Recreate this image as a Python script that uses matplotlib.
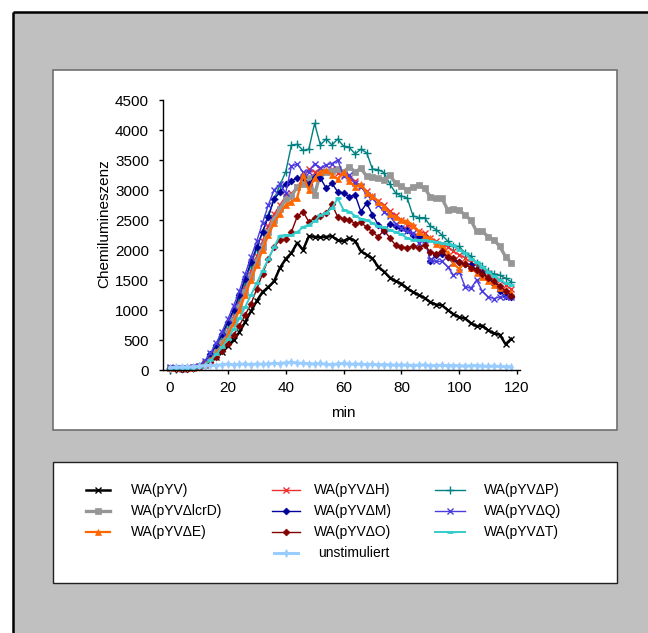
import numpy as np
import matplotlib
matplotlib.use("Agg")
import matplotlib.pyplot as plt
from matplotlib.patches import Rectangle
from matplotlib.lines import Line2D

plt.rcParams['font.family'] = ['Liberation Sans', 'DejaVu Sans']

# sampling every 2 minutes
minutes = np.arange(0, 120, 2)

pyv = [40, 30, 30, 35, 40, 50, 80, 140, 220, 300, 400, 500, 630, 800, 980, 1150,
       1300, 1380, 1480, 1700, 1850, 1950, 2120, 2000, 2230, 2220, 2210, 2220, 2230, 2160,
       2150, 2200, 2150, 1980, 1920, 1860, 1720, 1640, 1540, 1480, 1440, 1360, 1300, 1250,
       1200, 1130, 1090, 1080, 1000, 930, 880, 860, 780, 730, 740, 660, 610, 590, 430, 520]
lcrd = [30, 30, 25, 30, 35, 50, 90, 180, 300, 450, 620, 820, 1050, 1300, 1550, 1800,
        2050, 2300, 2500, 2680, 2850, 2900, 3050, 3100, 3200, 2920, 3280, 3300, 3320, 3350,
        3300, 3390, 3300, 3360, 3230, 3220, 3200, 3170, 3250, 3110, 3060, 3000, 3050, 3080,
        3030, 2890, 2860, 2860, 2670, 2690, 2670, 2580, 2500, 2310, 2310, 2220, 2170, 2060,
        1890, 1780]
d_e = [30, 35, 30, 35, 40, 55, 100, 170, 280, 420, 580, 780, 1000, 1250, 1500, 1750,
       2000, 2250, 2450, 2600, 2750, 2800, 2870, 3250, 3000, 3200, 3300, 3330, 3250, 3180,
       3300, 3150, 3050, 3100, 2950, 2900, 2800, 2720, 2600, 2550, 2500, 2480, 2420, 2300,
       2230, 2200, 2100, 2080, 1950, 1780, 1680, 1800, 1700, 1620, 1550, 1480, 1420, 1370,
       1330, 1280]
d_h = [40, 35, 30, 35, 45, 60, 110, 200, 330, 500, 680, 900, 1150, 1400, 1650, 1900,
       2150, 2400, 2600, 2750, 2900, 2950, 3050, 3200, 3350, 3300, 3350, 3300, 3350, 3280,
       3250, 3200, 3150, 3050, 2980, 2900, 2820, 2750, 2650, 2580, 2500, 2420, 2380, 2320,
       2280, 2200, 2150, 2100, 2050, 1980, 1920, 1870, 1800, 1740, 1680, 1620, 1560, 1500,
       1420, 1350]
d_m = [40, 30, 25, 30, 45, 70, 140, 260, 420, 600, 800, 1000, 1250, 1520, 1800, 2050,
       2300, 2550, 2850, 2960, 3100, 3150, 3200, 3210, 3100, 3210, 3200, 3030, 3110, 2970,
       2950, 2890, 2920, 2640, 2780, 2590, 2420, 2310, 2440, 2400, 2360, 2330, 2250, 2220,
       2220, 1810, 1920, 1940, 1890, 1840, 1800, 1770, 1750, 1670, 1610, 1530, 1440, 1310,
       1230, 1220]
d_o = [30, 25, 20, 25, 35, 50, 80, 140, 220, 320, 440, 580, 740, 920, 1100, 1350,
       1600, 1850, 2050, 2170, 2180, 2300, 2560, 2640, 2470, 2530, 2560, 2610, 2760, 2550,
       2520, 2500, 2440, 2460, 2380, 2300, 2220, 2330, 2200, 2080, 2050, 2040, 2060, 2030,
       2090, 1960, 1940, 1980, 1880, 1860, 1800, 1760, 1700, 1670, 1600, 1540, 1480, 1400,
       1320, 1240]
d_p = [20, 25, 30, 30, 40, 60, 120, 230, 380, 560, 760, 980, 1220, 1480, 1750, 2020,
       2300, 2580, 2850, 3080, 3300, 3750, 3760, 3660, 3680, 4110, 3750, 3850, 3750, 3850,
       3730, 3710, 3600, 3680, 3620, 3350, 3340, 3290, 3100, 2950, 2900, 2870, 2570, 2540,
       2540, 2400, 2340, 2250, 2150, 2060, 2060, 1950, 1900, 1780, 1730, 1650, 1600, 1580,
       1530, 1470]
d_q = [50, 40, 30, 35, 50, 75, 150, 280, 450, 640, 850, 1070, 1320, 1600, 1880, 2150,
       2450, 2750, 3000, 3100, 2950, 3400, 3430, 3300, 3300, 3440, 3370, 3420, 3440, 3500,
       3230, 3250, 3110, 3060, 2920, 2860, 2750, 2640, 2560, 2440, 2360, 2310, 2280, 2110,
       2170, 1830, 1810, 1810, 1720, 1580, 1640, 1390, 1360, 1500, 1310, 1220, 1190, 1220,
       1210, 1220]
d_t = [30, 30, 25, 30, 40, 55, 90, 160, 260, 380, 520, 680, 860, 1050, 1250, 1450,
       1650, 1850, 2050, 2240, 2250, 2250, 2300, 2380, 2420, 2480, 2580, 2620, 2700, 2860,
       2670, 2640, 2570, 2520, 2500, 2450, 2400, 2380, 2330, 2300, 2260, 2200, 2170, 2170,
       2160, 2150, 2140, 2120, 2100, 2080, 2000, 1950, 1850, 1800, 1720, 1640, 1560, 1500,
       1450, 1420]
unstim = [40, 45, 50, 50, 55, 60, 70, 80, 75, 90, 100, 85, 95, 100, 90, 100,
          95, 100, 110, 105, 120, 130, 115, 110, 105, 100, 110, 95, 90, 100,
          110, 100, 95, 100, 90, 95, 85, 90, 85, 80, 85, 80, 75, 80,
          85, 70, 75, 80, 70, 75, 70, 65, 70, 75, 65, 60, 65, 60, 55, 55]

x_ticks = [0, 20, 40, 60, 80, 100, 120]
y_ticks = list(range(0, 5000, 500))

# label, values, color, line width, marker, marker size, marker edge width
series = [
    ("WA(pYV)", pyv, "#000000", 1.8, "x", 4.5, 1.0),
    ("WA(pYVΔH)", d_h, "#F03030", 1.0, "x", 4.0, 1.0),
    ("WA(pYVΔP)", d_p, "#008080", 1.0, "+", 6.0, 1.0),
    ("WA(pYVΔlcrD)", lcrd, "#969696", 2.4, "s", 4.5, 0.5),
    ("WA(pYVΔM)", d_m, "#000099", 1.0, "D", 3.5, 0.5),
    ("WA(pYVΔQ)", d_q, "#4B3CE0", 1.0, "x", 4.5, 1.0),
    ("WA(pYVΔE)", d_e, "#FF6600", 1.6, "^", 5.0, 0.5),
    ("WA(pYVΔO)", d_o, "#800000", 1.0, "D", 3.5, 0.5),
    ("WA(pYVΔT)", d_t, "#33CCCC", 1.4, "_", 5.0, 2.0),
    ("unstimuliert", unstim, "#99CCFF", 2.2, "d", 4.0, 0.5),
]

W, H = 648, 633
fig = plt.figure(figsize=(W / 100, H / 100), dpi=100)
fig.patch.set_facecolor("white")


def fx(x):
    return x / W


def fy(y):
    return 1 - y / H


tf = fig.transFigure
# grey panel with black frame on the left and top
fig.add_artist(Rectangle((fx(13), 0), 1 - fx(13), fy(12), transform=tf,
                         facecolor="#C0C0C0", edgecolor="none", zorder=-5))
fig.add_artist(Line2D([fx(13), fx(13)], [0, fy(12)], color="black", lw=1.8,
                      transform=tf, zorder=-4, solid_capstyle="butt"))
fig.add_artist(Line2D([fx(13), 1.01], [fy(12), fy(12)], color="black", lw=1.8,
                      transform=tf, zorder=-4, solid_capstyle="butt"))
# plot area
fig.add_artist(Rectangle((fx(53), fy(430)), fx(617) - fx(53), fy(70) - fy(430),
                         transform=tf, facecolor="white", edgecolor="#707070",
                         lw=1.2, zorder=-3))
# legend area
fig.add_artist(Rectangle((fx(53), fy(583)), fx(617) - fx(53), fy(462) - fy(583),
                         transform=tf, facecolor="white", edgecolor="#202020",
                         lw=1.0, zorder=-3))

# time axis: 0 min sits a little right of the value axis
x_lo, x_hi = -2.4, 121.0
ax = fig.add_axes([fx(163), fy(370), fx(520) - fx(163), fy(100) - fy(370)])
ax.patch.set_alpha(0)

for label, vals, color, lw, mk, ms, mew in series:
    ax.plot(minutes, vals, color=color, lw=lw, marker=mk, ms=ms, mew=mew,
            mec=color, mfc=color, label=label, clip_on=False)

ax.set_xlim(x_lo, x_hi)
ax.set_ylim(0, 4500)
ax.set_xticks(x_ticks)
ax.set_yticks(y_ticks)
for s in ("top", "right"):
    ax.spines[s].set_visible(False)
for s in ("left", "bottom"):
    ax.spines[s].set_color("black")
    ax.spines[s].set_linewidth(1.0)
ax.tick_params(axis="both", direction="out", length=3, width=1, labelsize=11,
               colors="black")
ax.tick_params(axis="y", pad=7)
ax.tick_params(axis="x", pad=5)

fig.text(fx(104), fy(224), "Chemilumineszenz", rotation=90, ha="center",
         va="center", fontsize=11)
fig.text(fx(343), fy(413), "min", ha="center", va="center", fontsize=11)

# legend entries (three columns, "unstimuliert" centred below)
rows = [490, 511, 532, 553]
slots = {
    "WA(pYV)": (86, 110, 131, rows[0]),
    "WA(pYVΔlcrD)": (86, 110, 131, rows[1]),
    "WA(pYVΔE)": (86, 110, 131, rows[2]),
    "WA(pYVΔH)": (272, 300, 314, rows[0]),
    "WA(pYVΔM)": (272, 300, 314, rows[1]),
    "WA(pYVΔO)": (272, 300, 314, rows[2]),
    "unstimuliert": (274, 298, 318, rows[3]),
    "WA(pYVΔP)": (435, 465, 484, rows[0]),
    "WA(pYVΔQ)": (435, 465, 484, rows[1]),
    "WA(pYVΔT)": (435, 465, 484, rows[2]),
}
for label, vals, color, lw, mk, ms, mew in series:
    x0, x1, xt, y = slots[label]
    fig.add_artist(Line2D([fx(x0), fx(x1)], [fy(y), fy(y)], color=color, lw=lw,
                          transform=tf, zorder=3))
    fig.add_artist(Line2D([fx((x0 + x1) / 2)], [fy(y)], color=color, marker=mk,
                          ms=ms, mew=mew, mec=color, mfc=color, lw=0,
                          transform=tf, zorder=4))
    fig.text(fx(xt), fy(y), label, ha="left", va="center", fontsize=10)

fig.savefig("out.png", dpi=100, facecolor=fig.get_facecolor())
